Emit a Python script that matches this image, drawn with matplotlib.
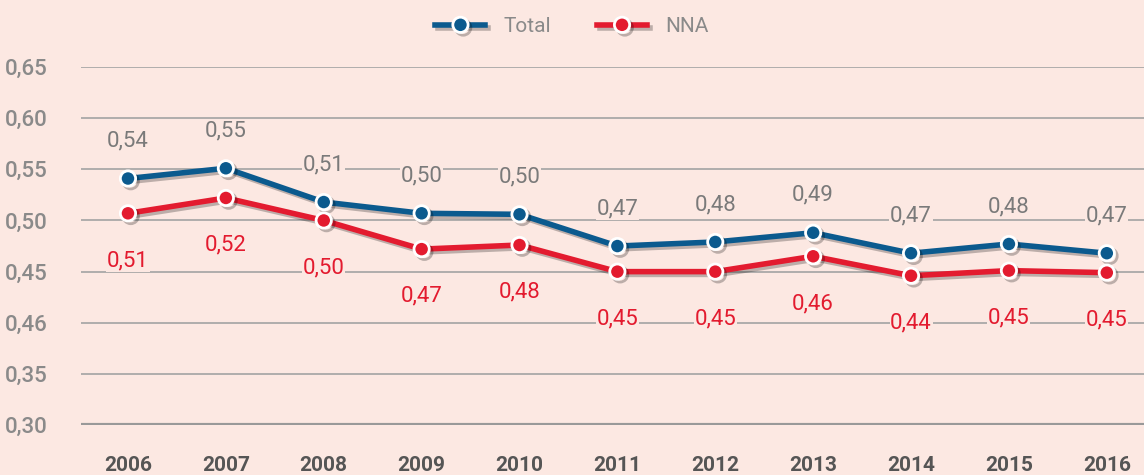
import matplotlib.pyplot as plt
import matplotlib.patheffects as pe

years = [2006, 2007, 2008, 2009, 2010, 2011, 2012, 2013, 2014, 2015, 2016]
total = [0.541, 0.551, 0.518, 0.507, 0.506, 0.475, 0.479, 0.488, 0.468, 0.477, 0.468]
nna = [0.507, 0.522, 0.500, 0.472, 0.476, 0.450, 0.450, 0.465, 0.446, 0.451, 0.449]
total_labels = ['0,54', '0,55', '0,51', '0,50', '0,50', '0,47', '0,48', '0,49', '0,47', '0,48', '0,47']
nna_labels = ['0,51', '0,52', '0,50', '0,47', '0,48', '0,45', '0,45', '0,46', '0,44', '0,45', '0,45']
yticks = [0.30, 0.35, 0.40, 0.45, 0.50, 0.55, 0.60, 0.65]
ytick_labels = ['0,30', '0,35', '0,46', '0,45', '0,50', '0,55', '0,60', '0,65']

bg = '#fce8e2'
blue = '#0b5a8e'
red = '#e31b2f'
plt.rcParams['font.family'] = ['Roboto', 'DejaVu Sans']

fig = plt.figure(figsize=(11.44, 4.75), dpi=100, facecolor=bg)
ax = fig.add_axes([0.0708, 0.105, 0.9292, 0.754])
ax.set_facecolor(bg)

shadow = [pe.SimpleLineShadow(offset=(2, -2), alpha=0.25, shadow_color='black'), pe.Normal()]
for vals, col, name in [(total, blue, 'Total'), (nna, red, 'NNA')]:
    ax.plot(years, vals, color=col, lw=4, marker='o', ms=11, mfc=col, mec='white', mew=2,
            label=name, zorder=3, path_effects=shadow)

for x, v, t in zip(years, total, total_labels):
    ax.annotate(t, (x, v), xytext=(0, 27), textcoords='offset points', ha='center', va='center',
                fontsize=16, color='#7a7a7a', zorder=2,
                bbox=dict(facecolor=bg, edgecolor='none', pad=0.5))
for x, v, t in zip(years, nna, nna_labels):
    ax.annotate(t, (x, v), xytext=(0, -34), textcoords='offset points', ha='center', va='center',
                fontsize=16, color=red, zorder=2,
                bbox=dict(facecolor=bg, edgecolor='none', pad=0.5))

ax.set_xlim(2005.52, 2016.38)
ax.set_ylim(0.30, 0.65)
ax.set_yticks(yticks, ytick_labels)
ax.set_xticks(years, [str(y) for y in years])
for y in yticks[1:]:
    ax.axhline(y, color='#a3a3a3', lw=1.2, zorder=1)
ax.axhline(0.30, color='#999999', lw=3, zorder=1)
for s in ax.spines.values():
    s.set_visible(False)
ax.tick_params(axis='y', length=0, pad=24, labelsize=16, labelcolor='#8a8a8a')
ax.tick_params(axis='x', length=0, pad=22, labelsize=15, labelcolor='#555555')
for lab in ax.get_yticklabels():
    lab.set_fontweight('medium')
for lab in ax.get_xticklabels():
    lab.set_fontweight('bold')

leg = ax.legend(loc='center', bbox_to_anchor=(0.5, 0.944), bbox_transform=fig.transFigure,
                ncol=2, frameon=False, fontsize=15, handlelength=2.4, columnspacing=2.2,
                handletextpad=0.87)
for txt in leg.get_texts():
    txt.set_color('#8a8a8a')

fig.savefig('out.png', dpi=100, facecolor=bg)
